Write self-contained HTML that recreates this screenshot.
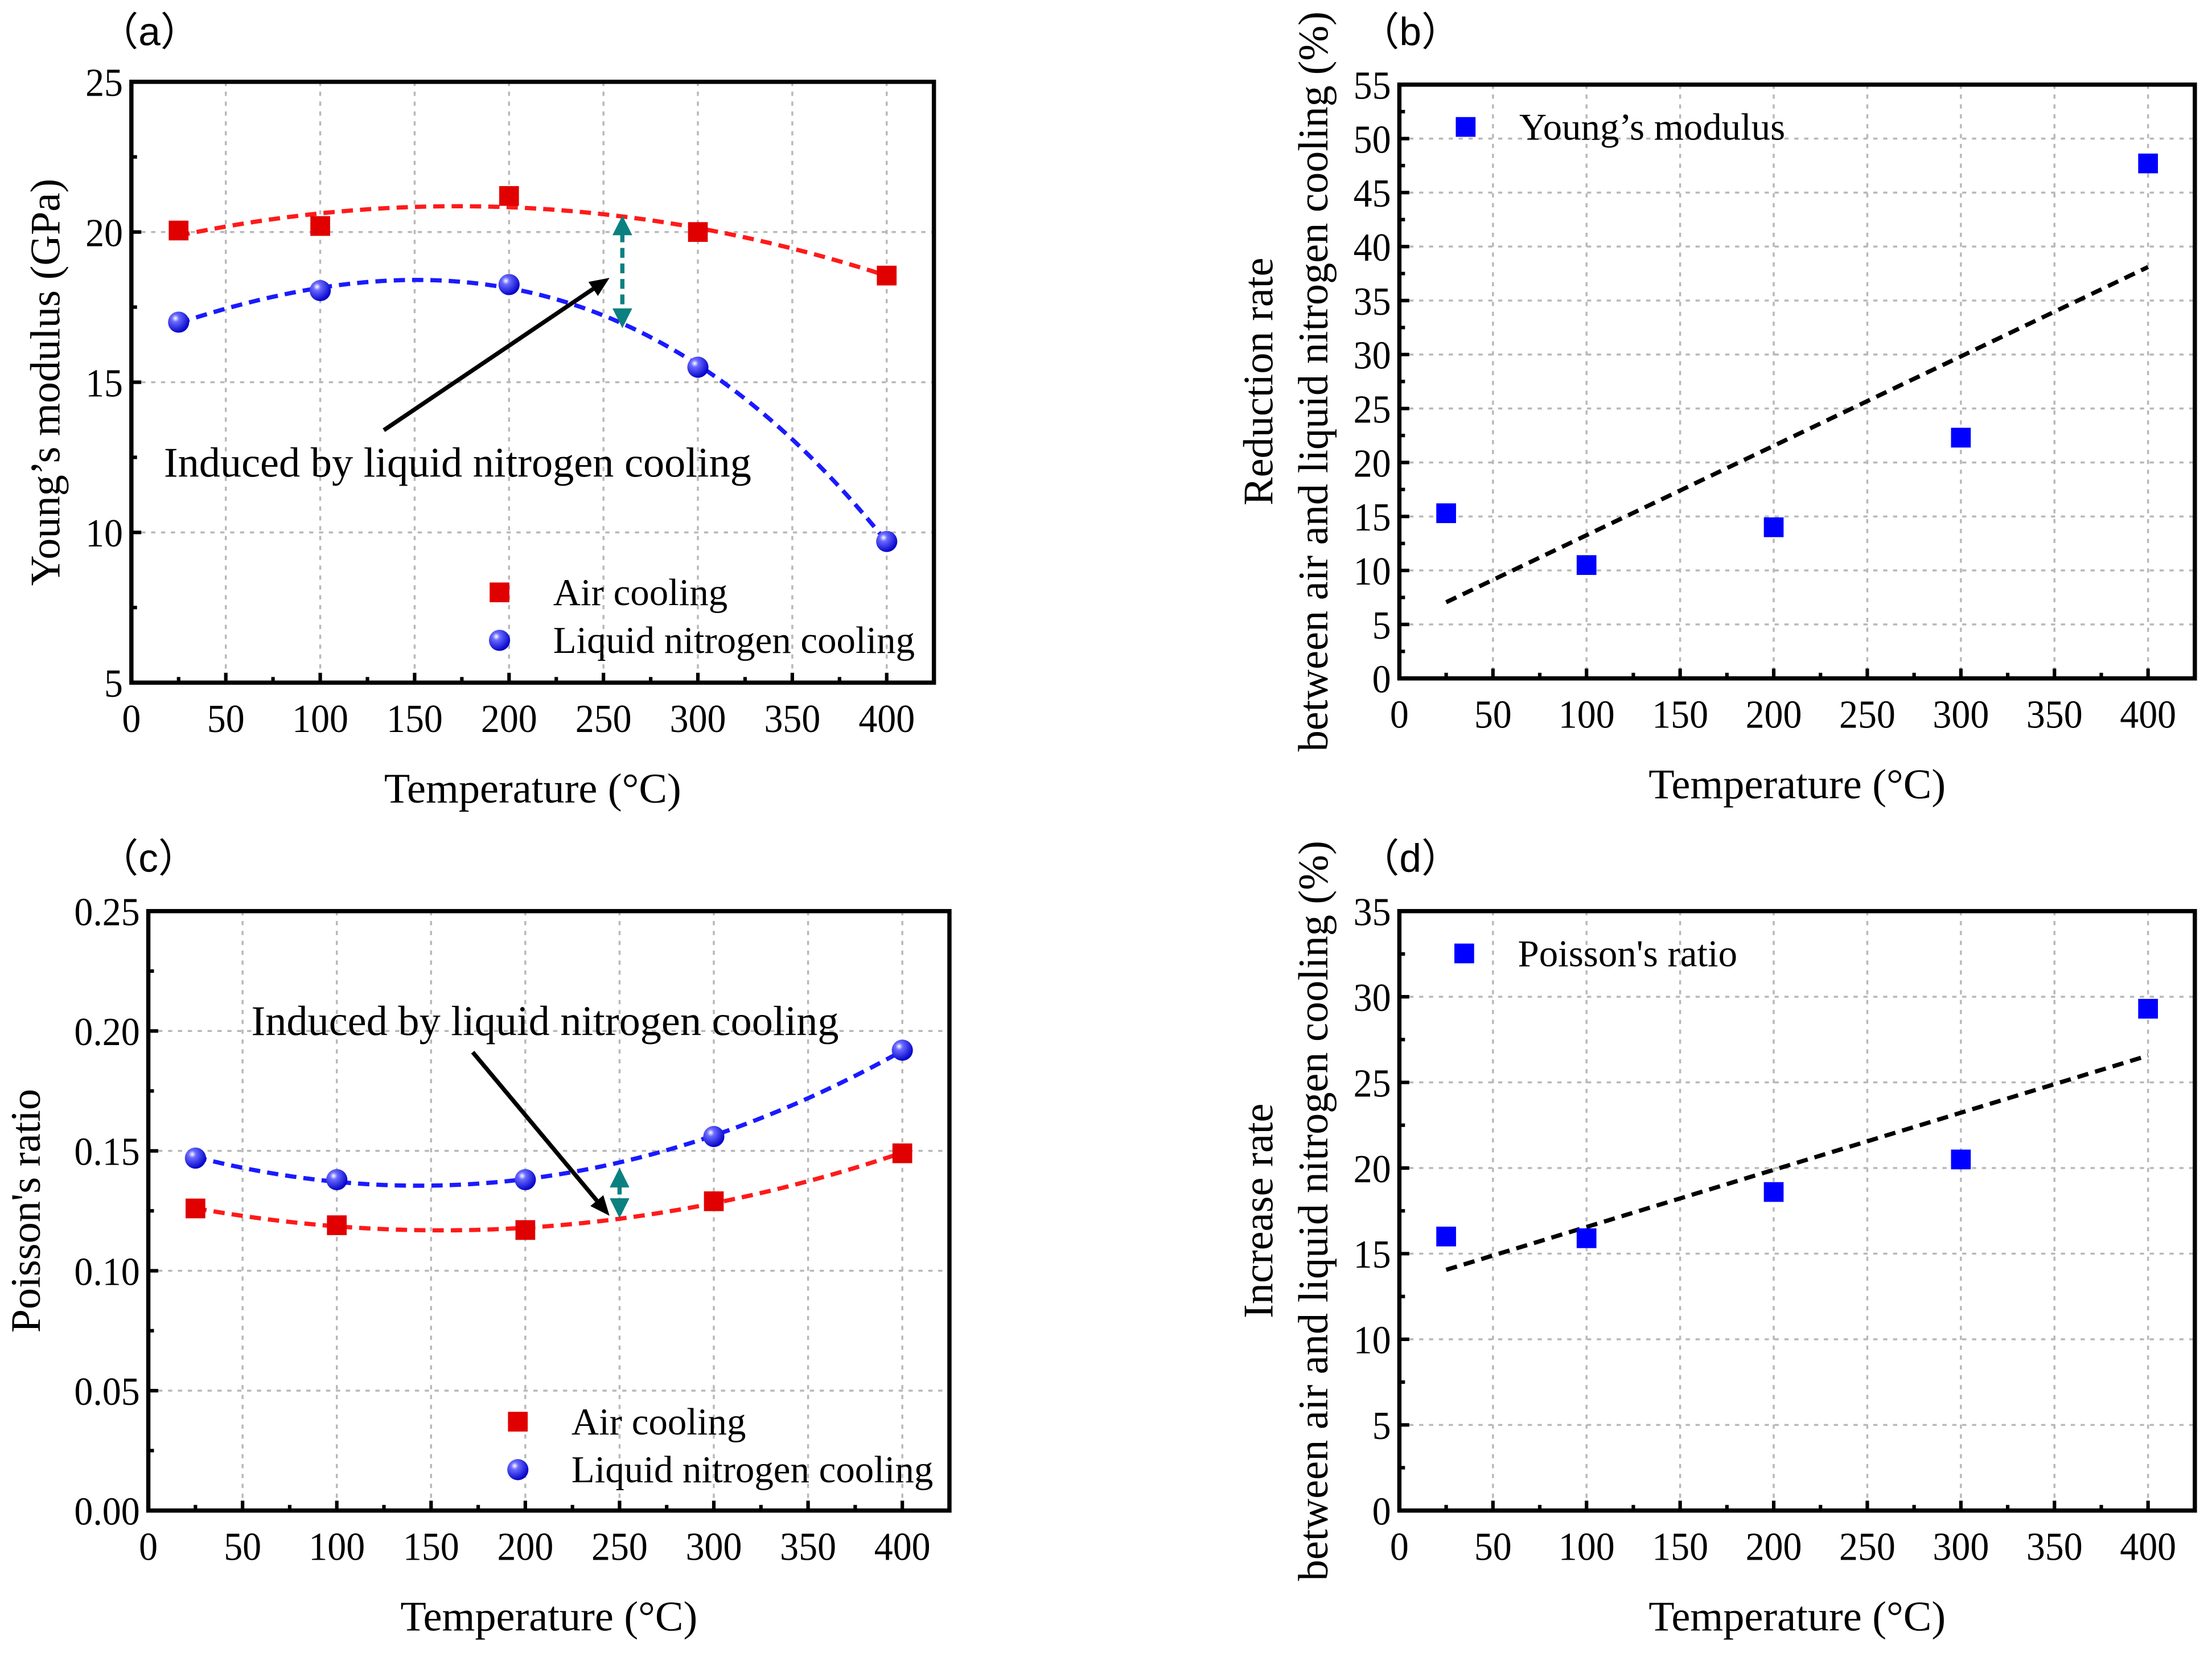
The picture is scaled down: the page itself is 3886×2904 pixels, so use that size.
<!DOCTYPE html>
<html><head><meta charset="utf-8"><style>
html,body{margin:0;padding:0;background:#fff}
svg{display:block}
text{font-family:"Liberation Serif","Noto Serif CJK SC",serif;fill:#000}
.lbl{font-family:"Liberation Sans","Noto Sans CJK SC",sans-serif}
</style></head><body>
<svg id="fig" width="3886" height="2904" viewBox="0 0 1568 1172" xmlns="http://www.w3.org/2000/svg">
<defs>
<radialGradient id="ball" cx="0.35" cy="0.32" r="0.7">
<stop offset="0" stop-color="#ffffff"/><stop offset="0.25" stop-color="#6a6aff"/><stop offset="1" stop-color="#0000c8"/>
</radialGradient>
</defs>
</svg>
<script>
const temps = [25, 100, 200, 300, 400];
const aAir = [20.05, 20.2, 21.2, 20.0, 18.55];
const aLN = [17.0, 18.05, 18.25, 15.5, 9.7];
const bRed = [15.3, 10.5, 14.0, 22.3, 47.7];
const cAir = [0.126, 0.119, 0.117, 0.129, 0.149];
const cLN = [0.147, 0.138, 0.138, 0.156, 0.192];
const dInc = [16.0, 15.9, 18.6, 20.5, 29.3];
const xTicks = [0, 50, 100, 150, 200, 250, 300, 350, 400];
const aYTicks = [5, 10, 15, 20, 25];
const bYTicks = [0,5,10,15,20,25,30,35,40,45,50,55];
const cYTicks = [0, 0.05, 0.10, 0.15, 0.20, 0.25];
const dYTicks = [0,5,10,15,20,25,30,35];

const NS = "http://www.w3.org/2000/svg";
const svg = document.getElementById('fig');
function el(tag, attrs, parent){const e=document.createElementNS(NS,tag);for(const k in attrs)e.setAttribute(k,attrs[k]);(parent||svg).appendChild(e);return e;}
function txt(x,y,s,size,anchor,rot,parent,cls,sx){
  const g=el('g',{transform:`translate(${x},${y}) rotate(${rot||0}) scale(${sx||1},1)`},parent);
  const t=el('text',{x:0,y:0,'font-size':size,'text-anchor':anchor||'start'},g);
  if(cls)t.setAttribute('class',cls);
  t.textContent=s;return t;
}
function polyfit(xs,ys,deg){
  const n=deg+1;const A=[];for(let i=0;i<n;i++){A.push(new Array(n+1).fill(0));}
  for(let k=0;k<xs.length;k++){for(let i=0;i<n;i++){for(let j=0;j<n;j++)A[i][j]+=Math.pow(xs[k],i+j);A[i][n]+=ys[k]*Math.pow(xs[k],i);}}
  for(let i=0;i<n;i++){let p=i;for(let r=i+1;r<n;r++)if(Math.abs(A[r][i])>Math.abs(A[p][i]))p=r;[A[i],A[p]]=[A[p],A[i]];
    for(let r=0;r<n;r++){if(r===i)continue;const f=A[r][i]/A[i][i];for(let c=i;c<=n;c++)A[r][c]-=f*A[i][c];}}
  const co=A.map((r,i)=>r[n]/r[i]);return x=>co.reduce((s,c,i)=>s+c*Math.pow(x,i),0);
}
function panel(o){
  const g=el('g',{});
  
  
  const X=v=>o.l+(v-0)/(425)*(o.r-o.l);
  const Y=v=>o.b-(v-o.ymin)/(o.ymax-o.ymin)*(o.b-o.t);
  xTicks.forEach(v=>{if(v>0){const ln=el('line',{x1:X(v),x2:X(v),y1:o.t,y2:o.b,stroke:'#b8b8b8','stroke-width':1.4,'stroke-dasharray':'3 4'},g);
    }});
  o.yt.forEach((v,i)=>{if(i>0&&i<o.yt.length-1){const ln=el('line',{x1:o.l,x2:o.r,y1:Y(v),y2:Y(v),stroke:'#b8b8b8','stroke-width':1.4,'stroke-dasharray':'3 4'},g);
    }});
  xTicks.forEach((v,i)=>{el('line',{x1:X(v),x2:X(v),y1:o.b,y2:o.b-7,stroke:'#000','stroke-width':2.5},g);
    if(i<xTicks.length-1)el('line',{x1:X(v+25),x2:X(v+25),y1:o.b,y2:o.b-4,stroke:'#000','stroke-width':2.5},g);
    const t=txt(X(v),o.b+35,String(v),28,'middle',0,g,null,0.95);});
  o.yt.forEach((v,i)=>{el('line',{x1:o.l,x2:o.l+7,y1:Y(v),y2:Y(v),stroke:'#000','stroke-width':2.5},g);
    if(i<o.yt.length-1){const m=(v+o.yt[i+1])/2;el('line',{x1:o.l,x2:o.l+4,y1:Y(m),y2:Y(m),stroke:'#000','stroke-width':2.5},g);}
    const t=txt(o.l-6,Y(v)+10,o.fmt(v),28,'end',0,g,null,0.95);});
  const fr=el('rect',{x:o.l,y:o.t,width:o.r-o.l,height:o.b-o.t,fill:'none',stroke:'#000','stroke-width':3},g);
  
  o.series.forEach(s=>{
    const f=polyfit(temps,s.data,s.deg);let d='';
    for(let x=25;x<=400;x+=2.5)d+=(x===25?'M':'L')+X(x).toFixed(2)+','+Y(f(x)).toFixed(2);
    const p=el('path',{d:d,fill:'none',stroke:s.line,'stroke-width':3,'stroke-dasharray':'8 5'},g);
    
    s.data.forEach((v,i)=>{let m;
      if(s.shape==='sq')m=el('rect',{x:X(temps[i])-7,y:Y(v)-7,width:14,height:14,fill:s.color},g);
      else m=el('circle',{cx:X(temps[i]),cy:Y(v),r:7.5,fill:'url(#ball)'},g);
      });
    if(s.lx!==undefined){
      let m;if(s.shape==='sq')m=el('rect',{x:s.lx-7,y:s.ly-7,width:14,height:14,fill:s.color},g);
      else m=el('circle',{cx:s.lx,cy:s.ly,r:7.5,fill:'url(#ball)'},g);
      
      const t=txt(s.lx+38,s.ly+9,s.label,27,'start',0,g);}
  });
  if(o.gap){const x=X(o.gap[0]),y1=Y(o.gap[1]),y2=Y(o.gap[2]);
    const a=el('g',{},g);
    el('line',{x1:x,x2:x,y1:y1+12,y2:y2-12,stroke:'#0b8080','stroke-width':3,'stroke-dasharray':'7 4'},a);
    el('path',{d:`M${x},${y1} l-7,14 l14,0z M${x},${y2} l-7,-14 l14,0z`,fill:'#0b8080'},a);}
  if(o.ann){const a=o.ann;const ar=el('g',{},g);
    const ang=Math.atan2(a.y2-a.y1,a.x2-a.x1);const hx=a.x2-14*Math.cos(ang),hy=a.y2-14*Math.sin(ang);
    el('line',{x1:a.x1,y1:a.y1,x2:hx,y2:hy,stroke:'#000','stroke-width':3},ar);
    const px=-Math.sin(ang)*6,py=Math.cos(ang)*6;
    el('path',{d:`M${a.x2},${a.y2} L${hx+px},${hy+py} L${hx-px},${hy-py}Z`,fill:'#000'},ar);
    const t=txt(a.tx,a.ty,'Induced by liquid nitrogen cooling',30,'start',0,g);}
  const xt=txt((o.l+o.r)/2,o.b+85,'Temperature (°C)',30,'middle',0,g);
  o.ytitle.forEach((s,i)=>{const t=txt(o.ytx[i],(o.t+o.b)/2,s,30,'middle',-90,g);});
  const pl=txt(o.plx,o.ply,o.plabel,28,'start',0,g,'lbl');
}
const f0=v=>String(v), f2=v=>v.toFixed(2);
panel({name:'panel-a',l:93,r:662,t:58,b:484,ymin:5,ymax:25,yt:aYTicks,fmt:f0,
  series:[{key:'air-cooling',data:aAir,deg:2,shape:'sq',color:'#e00000',line:'#ff1a1a',label:'Air cooling',lx:354,ly:420},
          {key:'liquid-nitrogen',data:aLN,deg:3,shape:'ci',color:'#0000ff',line:'#1a1aff',label:'Liquid nitrogen cooling',lx:354,ly:454}],
  gap:[260,20.55,16.8],ann:{x1:272,y1:305,x2:432,y2:197,tx:116,ty:338},
  ytitle:['Young’s modulus (GPa)'],ytx:[42],plabel:'（a）',plx:70,ply:32});
panel({name:'panel-b',l:992,r:1556,t:60,b:481,ymin:0,ymax:55,yt:bYTicks,fmt:f0,
  series:[{key:'youngs-modulus-reduction',data:bRed,deg:1,shape:'sq',color:'#0000ff',line:'#000',label:'Young’s modulus',lx:1039,ly:90}],
  ytitle:['Reduction rate','between air and liquid nitrogen cooling (%)'],ytx:[902,941],plabel:'（b）',plx:964,ply:32});
panel({name:'panel-c',l:105,r:673,t:646,b:1071,ymin:0,ymax:0.25,yt:cYTicks,fmt:f2,
  series:[{key:'air-cooling',data:cAir,deg:2,shape:'sq',color:'#e00000',line:'#ff1a1a',label:'Air cooling',lx:367,ly:1008},
          {key:'liquid-nitrogen',data:cLN,deg:2,shape:'ci',color:'#0000ff',line:'#1a1aff',label:'Liquid nitrogen cooling',lx:367,ly:1042}],
  gap:[250,0.143,0.122],ann:{x1:335,y1:746,x2:432,y2:862,tx:178,ty:734},
  ytitle:['Poisson\'s ratio'],ytx:[28],plabel:'（c）',plx:70,ply:618});
panel({name:'panel-d',l:992,r:1556,t:646,b:1071,ymin:0,ymax:35,yt:dYTicks,fmt:f0,
  series:[{key:'poisson-increase',data:dInc,deg:1,shape:'sq',color:'#0000ff',line:'#000',label:'Poisson\'s ratio',lx:1038,ly:676}],
  ytitle:['Increase rate','between air and liquid nitrogen cooling (%)'],ytx:[902,941],plabel:'（d）',plx:964,ply:618});
</script>
</body></html>
